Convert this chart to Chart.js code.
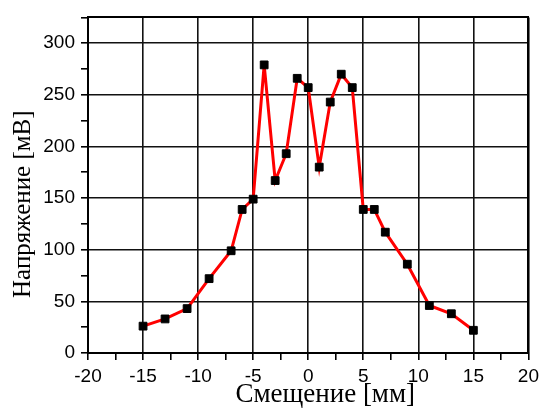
<!DOCTYPE html>
<html>
<head>
<meta charset="utf-8">
<script src="https://cdn.jsdelivr.net/npm/chart.js@4/dist/chart.umd.min.js"></script>
<style>
  html, body { margin: 0; padding: 0; background: #fff; }
  #wrap { width: 544px; height: 410px; }
</style>
</head>
<body>
<div id="wrap"><canvas id="c" width="544" height="410"></canvas></div>
<script>
const displacementMm = [-15, -13, -11, -9, -7, -6, -5, -4, -3, -2, -1, 0, 1, 2, 3, 4, 5, 6, 7, 9, 11, 13, 15];
const voltageMv = [26, 33, 43, 72, 99, 139, 149, 279, 167, 193, 266, 257, 180, 243, 270, 257, 139, 139, 117, 86, 46, 38, 22];
const xTitle = 'Смещение [мм]';
const yTitle = 'Напряжение [мВ]';
const xMin = -20, xMax = 20, xMajor = 5, xMinor = 2.5;
const yMin = 0, yMax = 325, yMajor = 50, yMinor = 25;

const points = displacementMm.map((x, i) => ({ x: x, y: voltageMv[i] }));

const isMajor = (v, step) => Math.abs(v / step - Math.round(v / step)) < 1e-6;
const GRID = '#111';

const titlePlugin = {
  id: 'axisTitles',
  afterDraw(chart) {
    const { ctx, chartArea } = chart;
    ctx.save();
    ctx.fillStyle = '#000';
    ctx.textAlign = 'center';
    ctx.textBaseline = 'middle';
    ctx.font = '27px "Liberation Serif"';
    ctx.fillText(xTitle, (chartArea.left + chartArea.right) / 2 + 17, 395);
    ctx.font = '25px "Liberation Serif"';
    ctx.translate(23, (chartArea.top + chartArea.bottom) / 2 + 19);
    ctx.rotate(-Math.PI / 2);
    ctx.fillText(yTitle, 0, 0);
    ctx.restore();
  }
};

new Chart(document.getElementById('c'), {
  type: 'line',
  data: {
    datasets: [{
      data: points,
      borderColor: '#ff0000',
      borderWidth: 3,
      pointStyle: 'rect',
      pointRadius: 5.5,
      pointBorderWidth: 1,
      pointBackgroundColor: '#000',
      pointBorderColor: '#000',
      tension: 0
    }]
  },
  options: {
    responsive: false,
    animation: false,
    layout: { padding: { top: 12, right: 13, left: 0, bottom: 0 } },
    plugins: { legend: { display: false }, tooltip: { enabled: false } },
    scales: {
      x: {
        type: 'linear', position: 'bottom', min: xMin, max: xMax,
        afterFit: s => { s.height = 57; },
        ticks: {
          stepSize: xMinor, autoSkip: false, maxRotation: 0, padding: 5,
          color: '#000', font: { family: 'Liberation Sans', size: 19 },
          callback: v => isMajor(v, xMajor) ? String(v) : ''
        },
        grid: {
          color: c => isMajor(c.tick.value, xMajor) ? GRID : 'rgba(0,0,0,0)',
          tickColor: '#000', lineWidth: 1.6, tickLength: 7
        },
        border: { display: true, color: '#000', width: 2 }
      },
      y: {
        type: 'linear', position: 'left', min: yMin, max: yMax,
        afterFit: s => { s.width = 88; },
        ticks: {
          stepSize: yMinor, autoSkip: false, padding: 6,
          color: '#000', font: { family: 'Liberation Sans', size: 19 },
          callback: v => isMajor(v, yMajor) ? String(v) : ''
        },
        grid: {
          color: c => isMajor(c.tick.value, yMajor) ? GRID : 'rgba(0,0,0,0)',
          tickColor: '#000', lineWidth: 1.6, tickLength: 7
        },
        border: { display: true, color: '#000', width: 2 }
      },
      xTop: {
        type: 'linear', position: 'top', min: xMin, max: xMax,
        afterFit: s => { s.height = 0; },
        ticks: { display: false },
        grid: { display: false },
        border: { display: true, color: '#000', width: 2 }
      },
      yRight: {
        type: 'linear', position: 'right', min: yMin, max: yMax,
        afterFit: s => { s.width = 0; },
        ticks: { display: false },
        grid: { display: false },
        border: { display: true, color: '#000', width: 2 }
      }
    }
  },
  plugins: [titlePlugin]
});
</script>
</body>
</html>
